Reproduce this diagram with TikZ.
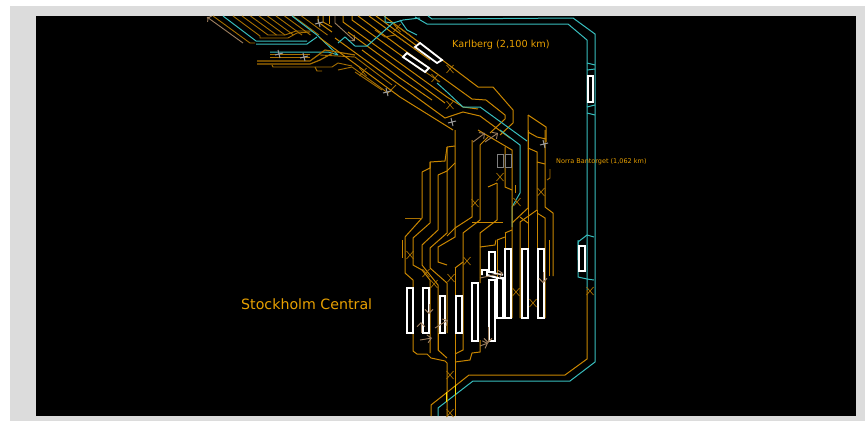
\documentclass[tikz,border=0pt]{standalone}
\usepackage{fontspec}
\setmainfont{DejaVu Sans}
\usepackage{tikz}
\usetikzlibrary{arrows.meta}
\definecolor{frame}{HTML}{DCDCDC}
\definecolor{trk}{HTML}{C98600}
\definecolor{trkdim}{HTML}{A87000}
\definecolor{sig}{HTML}{38BDBD}
\definecolor{lbl}{HTML}{E8A000}
\newcommand{\crossing}[2]{\draw[xing,shift={(#1,#2)}] (-3.5,-4) -- (3.5,4) (3.5,-4) -- (-3.5,4);}
\newcommand{\swmark}[2]{\draw[swm,shift={(#1,#2)}] (-4,1) -- (4,-1) (-1,-4) -- (1,4);}
\begin{document}
\begin{tikzpicture}[
    x=1pt, y=-1pt,
    trackline/.style={draw=trk, line width=1pt},
    dimline/.style={draw=trkdim, line width=0.9pt},
    sigline/.style={draw=sig, line width=1pt},
    xing/.style={draw=trkdim, line width=0.7pt},
    swm/.style={draw=gray!80, line width=1pt},
    swarr/.style={draw=gray!75!orange, line width=0.9pt, -{Straight Barb[length=4pt]}},
    plat/.style={draw=white, fill=black, line width=1.8pt},
    platdim/.style={draw=gray, fill=black, line width=1pt},
    caption/.style={text=lbl, inner sep=0pt, anchor=west},
]
\useasboundingbox (0,0) rectangle (865,421);
\fill[white] (0,0) rectangle (865,421);
\fill[frame] (10,6) rectangle (865,421);
\fill[black] (36,16) rectangle (856,416);

% upper left fan
\draw[swarr, <-] (207,17) -- (243,43);
\draw[dimline] (213,16) -- (250,43) -- (255,43);
\draw[dimline] (233,16) -- (260,36) -- (260,38) -- (288,38) -- (297,33) -- (310,32);
\foreach \x in {242,250.5,259,267.5,276,284.5,293,301.5}
  \draw[dimline] (\x,16) -- ++(26,19);
\draw[dimline] (268,35) -- (285,35) -- (296,31) -- (312,31);
\draw[sigline] (223,16) -- (256,41) -- (307,41);
\draw[sigline] (256,44) -- (307,44) -- (317,37);
\draw[sigline] (292,16) -- (317,35) -- (338,55);
\draw[sigline] (270,52) -- (328,52) -- (338,55);

% yard throat, left
\draw[dimline] (270,54) -- (310,54);
\draw[dimline] (270,57.5) -- (310,57.5);
\draw[dimline, line width=1.2pt] (257,61) -- (310,61) -- (325,50) -- (355,55);
\draw[dimline, line width=1.2pt] (257,64) -- (310,64) -- (320,60) -- (333,53);
\draw[dimline] (272,65) -- (273,67) -- (332,67) -- (338,63) -- (352,66);
\draw[dimline] (315,67) -- (317,71) -- (322,71);
\draw[dimline] (320,55) -- (355,57) -- (392,85);
\draw[dimline] (338,70) -- (352,67) -- (388,93) -- (396,85);
\draw[dimline] (355,72) -- (382,90);

% main bundle
\draw[trackline] (318,16) -- (318,22) -- (332,32);
\draw[trackline] (323,16) -- (323,22) -- (332,27);
\draw[trackline] (329,16) -- (329,24);
\draw[swarr] (335,16) -- (335,23) -- (355,41);
\draw[trackline] (343,16) -- (343,22) -- (447,97) -- (463,107) -- (478,109);
\draw[trackline] (352,16) -- (352,20) -- (420,69);
\draw[trackline] (358,16) -- (400,47) -- (472,99) -- (486,100) -- (505,115) -- (505,119) -- (490,133);
\draw[trackline] (384,16) -- (400,28) -- (478,87) -- (493,87) -- (513,110) -- (513,123) -- (500,135);
\draw[trackline] (369,16) -- (430,60);
\draw[trackline] (376,16) -- (428,54);
\draw[trackline] (320,38) -- (400,97) -- (453,130);
\draw[trackline] (335,38) -- (445,118) -- (463,112) -- (480,116) -- (510,138);
\draw[trackline] (348,32) -- (400,70) -- (445,103);
\draw[trackline] (362,50) -- (400,78) -- (432,100);
\draw[trackline] (528,115) -- (546,127) -- (546,142);
\draw[trackline] (528,115) -- (528,208) -- (512,223);
\draw[trackline] (528,132) -- (537,137) -- (546,139);
\draw[dimline] (393,23) -- (412,37);
\draw[dimline] (375,30) -- (385,37) -- (395,35) -- (405,42);
\draw[dimline] (415,65) -- (440,82);

% signal lines
\draw[sigline] (338,43) -- (345,37) -- (355,46) -- (367,46) -- (393,23) -- (403,20) -- (420,18);
\draw[sigline] (385,16) -- (385,22) -- (393,23);
\draw[sigline] (400,20) -- (407,30) -- (417,35);
\draw[sigline] (437,83) -- (447,92) -- (463,107) -- (480,107) -- (527,141);
\draw[sigline] (500,130) -- (520,145) -- (520,193) -- (512,207) -- (512,227);
\draw[sigline] (428,16) -- (432,19) -- (573,18) -- (595,34) -- (595,362) -- (570,381) -- (473,381) -- (438,408) -- (438,416);
\draw[sigline] (415,17) -- (427,24) -- (568,24) -- (587,40) -- (587,290);
\draw[trackline] (587,290) -- (587,359) -- (565,375) -- (469,375) -- (431,405) -- (431,416);
\draw[sigline] (578,260) -- (578,242) -- (587,235) -- (594,237);
\draw[sigline] (578,240) -- (578,277) -- (587,279) -- (594,280);
\foreach \y/\z in {63/65,70/69,107/105,113/115}
  \draw[sigline] (587,\y) -- (595,\z);

% verticals, left group
\draw[trackline] (422,172) -- (422,218) -- (405,237) -- (405,273) -- (413,280) -- (413,351) -- (417,354) -- (427,354) -- (431,358) -- (445,361) -- (447,363) -- (447,416);
\draw[trackline] (422,172) -- (430,168) -- (430,162) -- (445,161) -- (447,147);
\draw[trackline] (430,162) -- (430,223) -- (413,238) -- (413,265) -- (422,270) -- (430,280) -- (430,353);
\draw[trackline] (438,175) -- (438,230) -- (422,245) -- (422,265) -- (438,285) -- (438,350) -- (447,358);
\draw[trackline] (438,175) -- (447,171) -- (455,163);
\draw[trackline] (447,147) -- (447,233) -- (430,248) -- (430,268) -- (447,283) -- (447,333);
\draw[trackline] (447,147) -- (455,146);
\draw[trackline] (455,130) -- (455,237) -- (438,247) -- (438,262) -- (447,265);
\draw[trackline] (472,140) -- (472,217) -- (455,228) -- (447,236);
\draw[trackline] (455,268) -- (455,416);
\draw[trackline] (480,145) -- (480,220) -- (463,233) -- (463,350) -- (455,354);
\draw[trackline] (480,145) -- (488,137);
\draw[trackline] (455,268) -- (463,262);
\draw[trackline] (497,183) -- (497,220) -- (480,233) -- (480,283);
\draw[trackline] (488,187) -- (497,183);
\draw[trackline] (402,240) -- (402,258);
\draw[dimline] (405,218) -- (422,218);
\draw[trackline] (455,362) -- (470,360) -- (472,353) -- (480,352) -- (480,340);
\draw[trackline] (438,333) -- (438,350);
\draw[trackline] (472,222) -- (503,222);

% verticals, right group
\draw[trackline] (478,130) -- (512,150) -- (512,318);
\draw[trackline] (505,147) -- (505,187) -- (512,190);
\draw[trackline] (515,185) -- (515,193);
\draw[trackline] (505,233) -- (512,230);
\draw[trackline] (505,233) -- (505,318);
\draw[trackline] (497,240) -- (505,237);
\draw[trackline] (497,240) -- (497,318);
\draw[trackline] (480,247) -- (495,245) -- (496,240);
\draw[trackline] (528,148) -- (537,152) -- (537,210) -- (520,222) -- (520,318);
\draw[trackline] (528,130) -- (528,318);
\draw[trackline] (528,223) -- (520,217);
\draw[trackline] (537,162) -- (545,164);
\draw[trackline] (545,130) -- (545,207) -- (553,213) -- (553,276);
\draw[trackline] (537,213) -- (545,218) -- (545,318);
\draw[trackline] (537,210) -- (537,318);
\draw[trackline] (549,276) -- (549,240);
\draw[dimline] (547,180) -- (550,178) -- (550,169);
\draw[trackline, yellow!85!orange] (446,392) -- (446,402);
\draw[trackline, yellow!85!orange] (455,385) -- (455,395);

% crossings
\foreach \cx/\cy in {363/72,397/28,450/69,435/78,450/105,475/203,500/177,517/202,541/192,
                     410/255,426/273,434/284,451/278,467/261,516/292,533/303,590/291,450/375,450/413}
  {\crossing{\cx}{\cy}}

% platforms
\foreach \pa/\pb/\pc/\pd in {407/288/413/333,423/288/429/333,440/296/445/333,456/296/462/333,472/283/478/341,
                            489/252/495/272,489/280/495/341,497/278/503/318,505/249/511/318,
                            522/249/528/318,538/249/544/318,579/246/585/271,588/76/593/102}
  \draw[plat] (\pa,\pb) rectangle (\pc,\pd);
\draw[white, line width=1.8pt] (482,275) -- (482,270) -- (487,270) -- (487,275) -- (497,278);
\draw[white, line width=1.5pt] (487,275) -- (503,279) (490,272) -- (503,275);
\draw[plat] (415,47) -- (420,43) -- (442,60) -- (437,63) -- cycle;
\draw[plat] (403,57) -- (407,53) -- (429,68) -- (425,72) -- cycle;
\draw[platdim] (497.5,154) rectangle (503,167);
\draw[platdim] (505.5,154) rectangle (511,167);

% switch marks
\foreach \mx/\my in {279/54,304/57,319/23,387/92,452/122,544/144}
  {\swmark{\mx}{\my}}
\draw[swarr] (473,142) -- (485,133);
\draw[swarr] (485,142) -- (498,133);
\draw[swarr] (420,340) -- (432,338);
\draw[swarr] (435,328) -- (448,320);
\draw[swarr] (421,333) -- (421,322);
\draw[swarr] (429,304) -- (429,314);
\draw[swarr] (543,272) -- (543,283);
\draw[swarr] (480,278) -- (503,273);
\draw[swarr] (480,346) -- (488,343);
\draw[swarr] (488,327) -- (488,343);

% labels
\node[caption, font=\fontsize{9.7}{11}\selectfont] (karlberg) at (452,44.5) {Karlberg (2,100 km)};
\node[caption, font=\fontsize{6.5}{7}\selectfont] (norra) at (556,162) {Norra Bantorget (1,062 km)};
\node[caption, font=\fontsize{14.2}{16}\selectfont] (central) at (241,304) {Stockholm Central};
\end{tikzpicture}
\end{document}
